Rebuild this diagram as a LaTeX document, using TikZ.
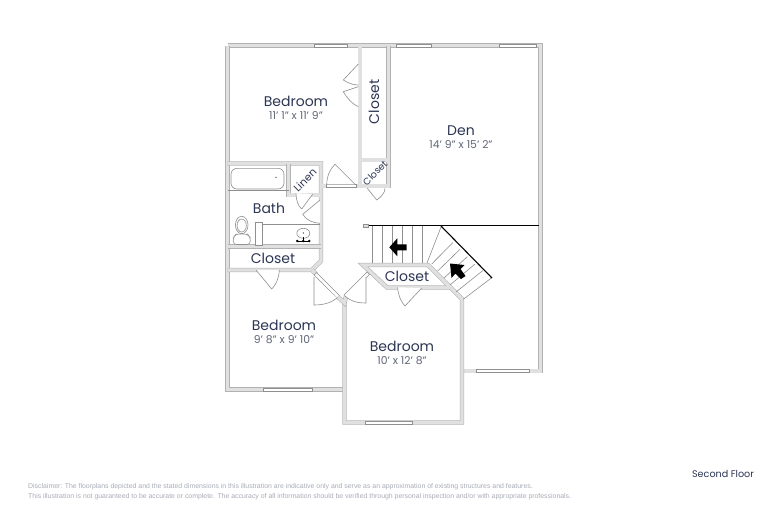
\documentclass[tikz,border=0pt]{standalone}
\usepackage{fontspec}
\setmainfont{Poppins}
\newfontfamily\notefont{Liberation Sans}
\usetikzlibrary{shapes}
\definecolor{wallfill}{HTML}{E0E0E0}
\definecolor{wallline}{HTML}{B2B2B2}
\definecolor{thinline}{HTML}{8F8F8F}
\definecolor{ink}{HTML}{2C3654}
\definecolor{dimink}{HTML}{5F6678}
\definecolor{noteink}{HTML}{A9ADB8}
\tikzset{
  wall/.style={draw=wallline,line width=.6pt,double=wallfill,double distance=3.2pt,line join=miter},
  door/.style={draw=thinline,line width=.6pt,fill=white},
  thin/.style={draw=thinline,line width=.6pt},
  glass/.style={draw=thinline,line width=.6pt,fill=white},
  room/.style={text=ink,font=\fontsize{14}{14}\selectfont,inner sep=0pt},
  dim/.style={text=dimink,font=\fontsize{10.8}{11}\selectfont,inner sep=0pt},
  note/.style={text=noteink,font=\notefont\fontsize{6.9}{7}\selectfont,inner sep=0pt,anchor=west},
}
\begin{document}
\begin{tikzpicture}[x=1pt,y=-1pt]
  \useasboundingbox[fill=white] (0,0) rectangle (768,512);
  % walls
  \draw[wall] (227.5,45.5) -- (540.5,45.5) -- (540.5,371) -- (462,371);
  \draw[wall] (227.5,45.5) -- (227.5,389.5) -- (344.5,389.5);
  \draw[wall] (360,45.5) -- (360,186);
  \draw[wall] (388.5,45.5) -- (388.5,186) -- (360,186);
  \draw[wall] (360,160) -- (388.5,160);
  \draw[wall] (227.5,163.5) -- (321,163.5) -- (321,261) -- (312,270) -- (227.5,270);
  \draw[wall] (288.5,163.5) -- (288.5,195) -- (321,195);
  \draw[wall] (227.5,246.5) -- (321,246.5);
  \draw[wall] (321,186) -- (360,186);
  \draw[wall] (344.5,303) -- (344.5,422.5) -- (462,422.5) -- (462,299) -- (428,265) -- (363,265) -- (387,287.5) -- (450,287.5);
  % windows
  \draw[glass] (314,43.8) rectangle (347.5,47.2);
  \draw[glass] (396,43.8) rectangle (431.7,47.2);
  \draw[glass] (499,43.8) rectangle (536,47.2);
  \draw[glass] (263,387.8) rectangle (312,391.2);
  \draw[glass] (365,420.8) rectangle (412,424.2);
  \draw[glass] (476,369.3) rectangle (529,372.7);
  \draw[glass] (326,184.3) rectangle (356,187.7);
  % angled door frames
  \draw[wall] (312,270) -- (316,274);
  \draw[glass] (314,275) -- (337,298) -- (339.5,295.5) -- (316.5,272.5) -- cycle;
  \draw[glass] (367,272) -- (344,295) -- (346.5,297.5) -- (369.5,274.5) -- cycle;
  \draw[wall] (338,297) -- (344.5,303) -- (346,296);
  % doors
  \draw[door] (358.3,64) -- (343.3,80) .. controls (348,83) and (353,85) .. (358.3,85);
  \draw[door] (358.3,86.7) -- (343.3,91.7) .. controls (347,98) and (352,104) .. (358.3,106.7);
  \draw[door] (355,184.3) -- (335,164.3) .. controls (330,169) and (327,176) .. (326.7,184.3);
  \draw[door] (367.3,188.3) -- (376.7,200) .. controls (381,197) and (385,193) .. (385,188.3);
  \draw[door] (296,193.3) .. controls (296,200) and (298,206) .. (301.7,209) -- (312.7,194);
  \draw[door] (320,200) -- (302.7,214.3) .. controls (306,220) and (313,223) .. (320,223.3);
  \draw[door] (256,270) -- (271.7,289) .. controls (276,285) and (279,278) .. (279.3,270);
  \draw[door] (314,277) -- (314,305) .. controls (323,305) and (331,303) .. (337,298);
  \draw[door] (366,277) -- (366,303) .. controls (357,303) and (350,301) .. (345,296);
  \draw[door] (397.7,287.3) .. controls (398,295) and (401,302) .. (405,306) -- (421.7,288);
  % bath fixtures
  \draw[thin] (227.5,190.5) -- (288.5,190.5);
  \draw[thin,rounded corners=6pt] (231,168.3) rectangle (284,189);
  \fill[black!70] (276,177.3) circle (.7);
  \draw[thin,fill=white] (255,222.7) rectangle (262.7,245);
  \draw[thin] (262.7,224.3) -- (320,224.3);
  \draw[thin] (303.3,233.3) ellipse (6.5 and 5);
  \fill (303.3,233) circle (.6);
  \draw[line width=.7pt] (297.3,241) -- (309.3,241) (303.3,237) -- (303.3,241);
  \fill (297.3,241) circle (1.4) (303.3,241) circle (1.4) (309.3,241) circle (1.4);
  \draw[thin] (241.7,225) ellipse (6.3 and 8.7);
  \draw[thin] (241.7,225.5) ellipse (4.6 and 6.5);
  \draw[thin,fill=white,rounded corners=3pt] (236,234) -- (247.5,234) -- (250.5,238) -- (250,244.5) -- (233.5,244.5) -- (233,238) -- cycle;
  % stairs
  \foreach \sx in {372.7,382.7,392.7,402.7,412.7,422.7}
    \draw[thin] (\sx,226) -- (\sx,263);
  \draw[thin] (441,227) -- (427,263);
  \draw[thin] (431.7,264) -- (452.7,242.7);
  \draw[thin] (437.7,271) -- (460,249.3);
  \draw[thin] (444,278) -- (467.3,256.7);
  \draw[thin] (450,285) -- (475,264);
  \draw[thin] (456,292) -- (482.7,270.7);
  \draw[thin] (463.3,299.3) -- (491.7,277.7);
  \draw[line width=1.1pt] (368,225.7) -- (538.5,225.7);
  \draw[line width=1.1pt] (441,226) -- (492,278);
  \draw[thin,fill=wallfill] (363.5,224.5) rectangle (368,227.5);
  \fill (389.3,247.3) -- (397.3,238.3) -- (397.3,244.3) -- (406.7,244.3) -- (406.7,250.3) -- (397.3,250.3) -- (397.3,256.3) -- cycle;
  \fill (450,263.5) -- (464.5,265) -- (460.5,269) -- (465.5,276) -- (461,279) -- (455.5,273.5) -- (451.5,278) -- cycle;
  % labels
  \node[room] (bedroomA) at (296,101) {Bedroom};
  \node[dim] (bedroomAdim) at (296,116) {11' 1" x 11' 9"};
  \node[room,rotate=90] (closetA) at (374,102) {Closet};
  \node[room,font=\fontsize{9.5}{10}\selectfont,rotate=45] (closetB) at (375,173) {Closet};
  \node[room,font=\fontsize{10.5}{11}\selectfont,rotate=45] (linen) at (305,180) {Linen};
  \node[room] (den) at (461,131) {Den};
  \node[dim] (dendim) at (461,145) {14' 9" x 15' 2"};
  \node[room] (bath) at (269,208) {Bath};
  \node[room] (closetC) at (273,258) {Closet};
  \node[room] (closetD) at (407,276) {Closet};
  \node[room] (bedroomB) at (284,325) {Bedroom};
  \node[dim] (bedroomBdim) at (284,340) {9' 8" x 9' 10"};
  \node[room] (bedroomC) at (402,346) {Bedroom};
  \node[dim] (bedroomCdim) at (402,361) {10' x 12' 8"};
  \node[text=ink,font=\fontsize{9.6}{10}\selectfont,inner sep=0pt] (floor) at (723,474) {Second Floor};
  \node[note] (noteA) at (28,487) {Disclaimer: The floorplans depicted and the stated dimensions in this illustration are indicative only and serve as an approximation of existing structures and features.};
  \node[note] (noteB) at (28,497) {This illustration is not guaranteed to be accurate or complete. The accuracy of all information should be verified through personal inspection and/or with appropriate professionals.};
\end{tikzpicture}
\end{document}
